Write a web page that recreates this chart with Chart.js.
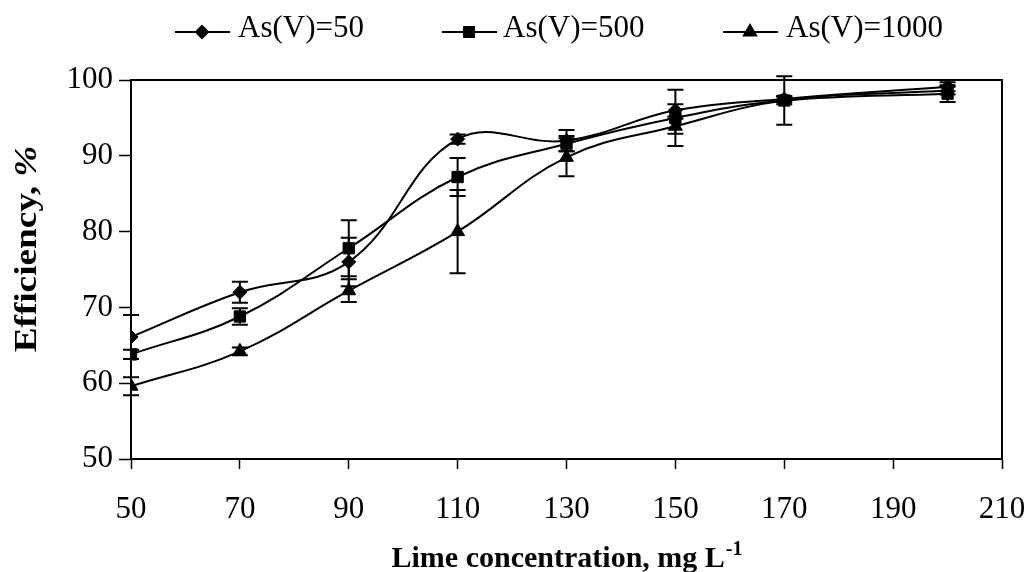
<!DOCTYPE html>
<html>
<head>
<meta charset="utf-8">
<script src="https://cdn.jsdelivr.net/npm/chart.js@4.4.1/dist/chart.umd.min.js"></script>
<style>
  html, body { margin: 0; padding: 0; background: #fff; }
  #box { width: 1029px; height: 572px; }
</style>
</head>
<body>
<div id="box"><canvas id="efficiency"></canvas></div>
<script>
// lime dose, mg/L
const lime = [50, 70, 90, 110, 130, 150, 170, 200];

// removal efficiency (%) and error bar half-widths for each initial As(V) level
const as50 = [66.1, 72.0, 76.0, 92.2, 92.0, 96.0, 97.5, 99.1];
const as50Err = [2.9, 1.4, 3.2, 0.6, 1.4, 0.8, 0.4, 0.6];
const as500 = [63.8, 68.8, 77.8, 87.2, 91.6, 95.0, 97.3, 98.2];
const as500Err = [0.6, 1.1, 3.7, 2.5, 1.0, 3.7, 3.2, 1.1];
const as1000 = [59.6, 64.2, 72.2, 80.0, 89.8, 93.9, 97.3, 98.6];
const as1000Err = [1.2, 0.5, 1.5, 5.5, 2.5, 1.0, 0.5, 0.5];

const xTicks = [50, 70, 90, 110, 130, 150, 170, 190, 210];
const yTicks = [50, 60, 70, 80, 90, 100];

const serif = "'Liberation Serif', 'Times New Roman', serif";

function series(label, ys, errs, style, radius) {
  return {
    label: label,
    data: lime.map((x, i) => ({ x: x, y: ys[i] })),
    errors: errs,
    borderColor: '#000',
    backgroundColor: '#000',
    borderWidth: 2,
    tension: 0.4,
    pointStyle: style,
    pointRadius: radius,
    pointBorderWidth: 1,
    pointBackgroundColor: '#000',
    pointBorderColor: '#000'
  };
}

// vertical error bars with caps
const errorBars = {
  id: 'errorBars',
  afterDatasetsDraw(chart) {
    const ctx = chart.ctx;
    const xs = chart.scales.x, ys = chart.scales.y;
    ctx.save();
    ctx.strokeStyle = '#000';
    ctx.lineWidth = 2;
    chart.data.datasets.forEach(ds => {
      ds.data.forEach((p, i) => {
        const e = ds.errors[i];
        const px = xs.getPixelForValue(p.x);
        const top = ys.getPixelForValue(p.y + e);
        const bot = ys.getPixelForValue(p.y - e);
        ctx.beginPath();
        ctx.moveTo(px, top); ctx.lineTo(px, bot);
        ctx.moveTo(px - 8, top); ctx.lineTo(px + 8, top);
        ctx.moveTo(px - 8, bot); ctx.lineTo(px + 8, bot);
        ctx.stroke();
      });
    });
    ctx.restore();
  }
};

// plot frame, legend and axis titles
const decor = {
  id: 'decor',
  afterDraw(chart) {
    const ctx = chart.ctx;
    const a = chart.chartArea;
    ctx.save();
    ctx.strokeStyle = '#000';
    ctx.lineWidth = 2;
    ctx.beginPath();
    ctx.moveTo(a.left, a.top); ctx.lineTo(a.right, a.top); ctx.lineTo(a.right, a.bottom);
    ctx.stroke();

    // legend
    const items = [[175, 238], [442, 503], [723, 786]];
    chart.data.datasets.forEach((ds, i) => {
      const [lx, tx] = items[i];
      ctx.strokeStyle = '#000';
      ctx.lineWidth = 2;
      ctx.beginPath();
      ctx.moveTo(lx, 32); ctx.lineTo(lx + 55, 32);
      ctx.stroke();
      ctx.fillStyle = '#000';
      Chart.helpers.drawPoint(ctx, {
        pointStyle: ds.pointStyle, radius: ds.pointRadius - 1, rotation: 0, borderWidth: 1
      }, lx + 27, 32);
      ctx.font = '31px ' + serif;
      ctx.textBaseline = 'alphabetic';
      ctx.textAlign = 'left';
      ctx.fillText(ds.label, tx, 37);
    });

    // x title with superscript
    ctx.fillStyle = '#000';
    ctx.textBaseline = 'alphabetic';
    ctx.textAlign = 'left';
    const main = 'Lime concentration, mg L';
    ctx.font = 'bold 30px ' + serif;
    const w1 = ctx.measureText(main).width;
    ctx.font = 'bold 20px ' + serif;
    const w2 = ctx.measureText('-1').width;
    const x0 = (a.left + a.right) / 2 - (w1 + w2) / 2;
    ctx.font = 'bold 30px ' + serif;
    ctx.fillText(main, x0, 567);
    ctx.font = 'bold 20px ' + serif;
    ctx.fillText('-1', x0 + w1 + 1, 555);

    // y title, stretched along its length, the % sign in italic
    ctx.translate(36, 249);
    ctx.rotate(-Math.PI / 2);
    ctx.scale(1.2, 1);
    const t1 = 'Efficiency, ';
    ctx.font = 'bold 31px ' + serif;
    const v1 = ctx.measureText(t1).width;
    ctx.font = 'italic bold 31px ' + serif;
    const v2 = ctx.measureText('%').width;
    ctx.font = 'bold 31px ' + serif;
    ctx.fillText(t1, -(v1 + v2) / 2, 0);
    ctx.font = 'italic bold 31px ' + serif;
    ctx.fillText('%', -(v1 + v2) / 2 + v1, 0);
    ctx.restore();
  }
};

new Chart(document.getElementById('efficiency'), {
  type: 'line',
  data: {
    datasets: [
      series('As(V)=50', as50, as50Err, 'rectRot', 7),
      series('As(V)=500', as500, as500Err, 'rect', 8),
      series('As(V)=1000', as1000, as1000Err, 'triangle', 8)
    ]
  },
  options: {
    responsive: true,
    maintainAspectRatio: false,
    animation: false,
    layout: { padding: { top: 80, right: 27, left: 0, bottom: 0 } },
    plugins: { legend: { display: false }, tooltip: { enabled: false } },
    scales: {
      x: {
        type: 'linear',
        min: 50, max: 210,
        afterFit: s => { s.height = 113; s.paddingLeft = 0; s.paddingRight = 0; },
        afterBuildTicks: s => { s.ticks = xTicks.map(v => ({ value: v })); },
        grid: { drawOnChartArea: false, drawTicks: true, tickLength: 10, tickWidth: 1.5, tickColor: '#000' },
        border: { color: '#000', width: 2 },
        ticks: { color: '#000', padding: 22, maxRotation: 0, font: { family: serif, size: 31 } }
      },
      y: {
        min: 50, max: 100,
        afterFit: s => { s.width = 131; s.paddingTop = 0; s.paddingBottom = 0; },
        afterBuildTicks: s => { s.ticks = yTicks.map(v => ({ value: v })); },
        grid: { drawOnChartArea: false, drawTicks: true, tickLength: 12, tickWidth: 1.5, tickColor: '#000' },
        border: { color: '#000', width: 2 },
        ticks: { color: '#000', padding: 6, font: { family: serif, size: 31 } }
      }
    }
  },
  plugins: [errorBars, decor]
});
</script>
</body>
</html>
